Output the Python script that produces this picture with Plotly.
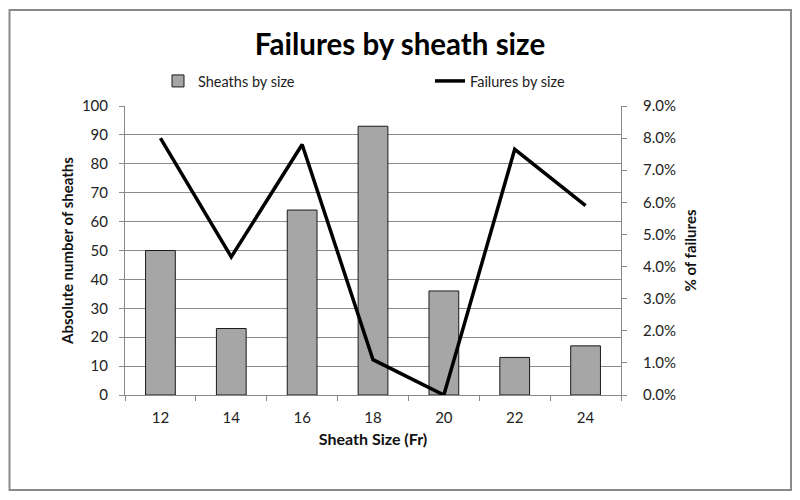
import plotly.graph_objects as go

sizes = ["12", "14", "16", "18", "20", "22", "24"]
sheaths = [50, 23, 64, 93, 36, 13, 17]
failures_pct = [0.080, 0.043, 0.078, 0.011, 0.0, 0.0765, 0.059]

FONT = "Lato, 'Open Sans', sans-serif"

# the page body has an 8px default margin; compensate so the screen layout matches
OFF = 8
FW, FH = 800 - OFF, 500 - OFF
# plot area in screen pixels
PX0, PX1, PY0, PY1 = 125, 621, 106, 395
L, T = PX0 - OFF, PY0 - OFF
R, B = FW - (PX1 - OFF), FH - (PY1 - OFF)
W, H = PX1 - PX0, PY1 - PY0


def sx(px):
    return (px - PX0) / W


def sy(py):
    return (PY1 - py) / H


fig = go.Figure()
fig.add_trace(go.Bar(
    x=sizes, y=sheaths, name="Sheaths by size",
    marker=dict(color="#a6a6a6", line=dict(color="#1a1a1a", width=1)),
    yaxis="y", legend="legend",
))
fig.add_trace(go.Scatter(
    x=sizes, y=failures_pct, name="Failures by size", mode="lines",
    line=dict(color="black", width=3.5), yaxis="y2", legend="legend2",
))

leg_common = dict(orientation="h", yanchor="middle", xanchor="left",
                  font=dict(size=14.5, color="#222", family=FONT),
                  bgcolor="rgba(0,0,0,0)")

fig.update_layout(
    width=FW, height=FH,
    margin=dict(l=L, r=R, t=T, b=B, autoexpand=False),
    paper_bgcolor="white", plot_bgcolor="white",
    font=dict(family=FONT, size=15, color="#222"),
    title=dict(text="<b>Failures by sheath size</b>",
               x=(400 - OFF) / FW, xref="container", xanchor="center",
               y=1 - (45 - OFF) / FH, yref="container", yanchor="middle",
               font=dict(size=29.5, color="black", family=FONT)),
    bargap=0.58,
    showlegend=True,
    legend=dict(x=sx(158), y=sy(81), **leg_common),
    legend2=dict(x=sx(430), y=sy(81), **leg_common),
    xaxis=dict(
        type="category", tickson="boundaries", automargin=False,
        ticks="outside", ticklen=5, tickcolor="#888",
        showline=True, linecolor="#888", linewidth=1,
        showgrid=False, ticklabelstandoff=9,
        tickfont=dict(size=15, color="#222"),
        title=dict(text="<b>Sheath Size (Fr)</b>", standoff=8,
                   font=dict(size=16, color="#111")),
    ),
    yaxis=dict(
        range=[0, 100], dtick=10, tick0=0, automargin=False,
        ticks="outside", ticklen=5, tickcolor="#888",
        showline=True, linecolor="#888", linewidth=1,
        showgrid=True, gridcolor="#8a8a8a", gridwidth=1,
        zeroline=False, ticklabelstandoff=8,
        tickfont=dict(size=15, color="#222"),
        title=dict(text="<b>Absolute number of sheaths</b>", standoff=4,
                   font=dict(size=15, color="#111")),
    ),
    yaxis2=dict(
        range=[0, 0.09], dtick=0.01, tick0=0, tickformat=".1%",
        overlaying="y", side="right", automargin=False,
        ticks="outside", ticklen=5, tickcolor="#888",
        showline=True, linecolor="#888", linewidth=1,
        showgrid=False, zeroline=False, ticklabelstandoff=13,
        tickfont=dict(size=15, color="#222"),
        title=dict(text="<b>% of failures</b>", standoff=10,
                   font=dict(size=15, color="#111")),
    ),
    shapes=[dict(type="rect", xref="paper", yref="paper",
                 x0=sx(9.5), x1=sx(791), y0=sy(490), y1=sy(10),
                 line=dict(color="#8a8a8a", width=2), layer="below")],
)

fig.write_html("out.html")
